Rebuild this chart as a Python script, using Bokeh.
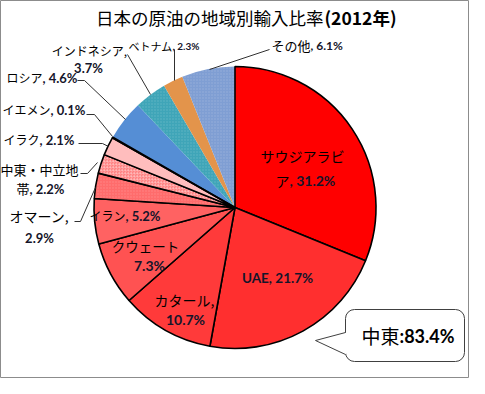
import math
from bokeh.plotting import figure
from bokeh.models import ColumnDataSource, Range1d
from bokeh.core.properties import value
from bokeh.embed import file_html
from bokeh.resources import INLINE

# ---------------- data ----------------
names = ["サウジアラビア", "UAE", "カタール", "クウェート", "イラン", "オマーン",
         "中東・中立地帯", "イラク", "イエメン", "ロシア", "インドネシア", "ベトナム", "その他"]
shares = [31.2, 21.7, 10.7, 7.3, 5.2, 2.9, 2.2, 2.1, 0.1, 4.6, 3.7, 2.3, 6.1]
is_middle_east = [True, True, True, True, True, True, True, True, True,
                  False, False, False, False]
middle_east_label = "中東"
middle_east_total = 83.4
title_main = "日本の原油の地域別輸入比率"
title_year = "(2012年)"

# ---------------- style / layout ----------------
colors = ["#FF0000", "#FF2F2F", "#FF3A3A", "#FF5252", "#FF6262", "#FF6C6C",
          "#FF8080", "#FFBDBD", "#FFD0D0", "#558ED5", "#3FA5B8", "#E3944B", "#7F9ED3"]
hatches = [None, None, None, None, None, "dot", "criss_cross", None, None,
           None, "dot", None, "dot"]
JP = "Noto Sans CJK JP"
NUM = "Lato"
W, H = 469, 378
CX, CY = 242.5, 215.0   # pie centre in picture pixels
R = 141.0

def py(y):  # picture pixel y -> data y
    return 394 - y

p = figure(width=W, height=H, output_backend="svg", toolbar_location=None,
           x_range=Range1d(8, 8 + W), y_range=Range1d(8, 8 + H),
           min_border=0)
p.axis.visible = False
p.grid.visible = False
p.outline_line_color = "#8c8c8c"
p.outline_line_width = 1
p.background_fill_color = "white"

total = sum(shares)
cum = 0.0
starts, ends = [], []
for s in shares:
    starts.append(math.pi / 2 - 2 * math.pi * cum / total)
    cum += s
    ends.append(math.pi / 2 - 2 * math.pi * cum / total)

# non middle-east slices first, then the middle-east ones with black outlines
order = [i for i in range(len(shares)) if not is_middle_east[i]] + \
        [i for i in range(len(shares)) if is_middle_east[i]]
for i in order:
    kw = {}
    if hatches[i]:
        kw = dict(hatch_pattern=hatches[i], hatch_color="white",
                  hatch_alpha=0.18, hatch_scale=3, hatch_weight=1)
    p.wedge(x=[CX], y=[py(CY)], radius=R, start_angle=[starts[i]], end_angle=[ends[i]],
            direction="clock", fill_color=colors[i],
            line_color="black" if is_middle_east[i] else None,
            line_width=1.6 if is_middle_east[i] else 0, **kw)

# ---------------- leader lines ----------------
leaders = [
    [(277, 57), (217, 77)],                    # その他
    [(182, 57), (182, 88)],                    # ベトナム
    [(135, 62), (158, 102)],                   # インドネシア
    [(85, 88), (92, 88), (133, 127)],          # ロシア
    [(94, 122), (102, 122), (120, 144)],       # イエメン
    [(86, 151), (110, 151), (116, 154)],       # イラク
    [(88, 181), (95, 181), (105, 170)],        # 中東・中立地帯
    [(82, 229), (88, 229), (103, 195)],        # オマーン
]
p.multi_line(xs=[[a for a, b in L] for L in leaders],
             ys=[[py(b) for a, b in L] for L in leaders],
             line_color="#303030", line_width=1)

# ---------------- labels ----------------
def pct(i):
    return f"{shares[i]:.1f}%"

segs = [
    (names[0][:6], 310, 163, "center", False, 14),
    (names[0][6:], 297, 188, "right", False, 14),
    (", " + pct(0), 297, 188, "left", True, 14),
    (f"{names[1]}, {pct(1)}", 285, 285, "center", True, 13.5),
    (names[2] + ",", 192, 307, "center", False, 14),
    (pct(2), 193, 327, "center", True, 14),
    (names[3], 153, 253, "center", False, 13.5),
    (pct(3), 157, 273, "center", True, 14),
    (names[4], 133, 223, "right", False, 12),
    (", " + pct(4), 133, 223, "left", True, 13),
    (names[5] + ",", 47, 223, "center", False, 14),
    (pct(5), 47, 245, "center", True, 13),
    (names[6][:6], 47, 177, "center", False, 13),
    (names[6][6:], 37, 196, "right", False, 13),
    (", " + pct(6), 37, 196, "left", True, 13),
    (names[7], 47, 147, "right", False, 12),
    (", " + pct(7), 47, 147, "left", True, 13),
    (names[8], 58, 117, "right", False, 12),
    (", " + pct(8), 58, 117, "left", True, 13),
    (names[9], 50, 85, "right", False, 12),
    (", " + pct(9), 50, 85, "left", True, 13),
    (names[10] + ",", 97, 58, "center", False, 12),
    (pct(10), 96, 75, "center", True, 13),
    (names[11], 180, 53, "right", False, 11),
    (", " + pct(11), 180, 53, "left", True, 10),
    (names[12], 318, 53, "right", False, 13),
    (", " + pct(12), 318, 53, "left", True, 12),
]

for bold in (False, True):
    rows = [s for s in segs if s[4] == bold]
    src = ColumnDataSource(dict(
        x=[r[1] for r in rows], y=[py(r[2]) for r in rows], text=[r[0] for r in rows],
        align=[r[3] for r in rows], size=[f"{r[5]}px" for r in rows]))
    p.text(x="x", y="y", text="text", source=src, text_align="align",
           text_baseline="middle", text_font_size="size",
           text_font=value(NUM if bold else JP),
           text_font_style="bold" if bold else "normal",
           text_color="#15152a" if bold else "black")

# ---------------- title ----------------
p.text(x=[331], y=[py(25)], text=[title_main], text_align="right", text_baseline="middle",
       text_font=value(JP), text_font_size="17.5px", text_color="black")
p.text(x=[332], y=[py(25)], text=[title_year], text_align="left", text_baseline="middle",
       text_font=value(JP), text_font_style="bold", text_font_size="17.5px", text_color="black")

# ---------------- callout ----------------
p.quad(left=[353], right=[472], top=[py(317)], bottom=[py(369)], border_radius=9,
       fill_color="white", line_color="#404040", line_width=1)
p.patch(x=[354, 323, 354], y=[py(340), py(348), py(362)], fill_color="white", line_color=None)
p.line(x=[353, 323, 353], y=[py(340), py(348), py(362)], line_color="#404040", line_width=1)
p.text(x=[407], y=[py(343)], text=[middle_east_label], text_align="right", text_baseline="middle",
       text_font=value(JP), text_font_size="19px", text_color="black")
p.text(x=[407], y=[py(343)], text=[f":{middle_east_total:.1f}%"], text_align="left",
       text_baseline="middle", text_font=value(NUM), text_font_style="bold",
       text_font_size="18px", text_color="black")

open("out.html", "w").write(file_html(p, INLINE))
